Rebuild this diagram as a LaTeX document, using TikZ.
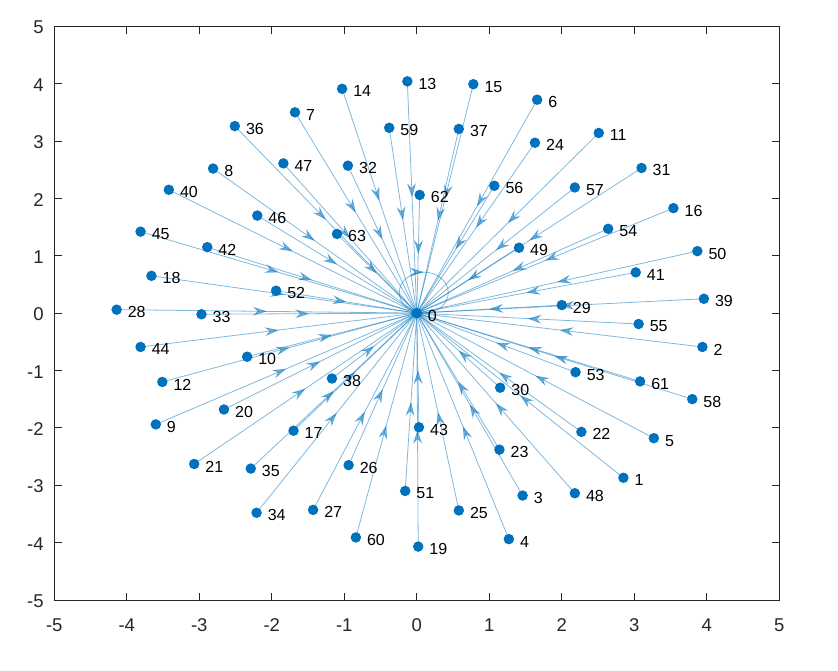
\documentclass[tikz,border=0pt]{standalone}
\usepackage{fontspec}
\setmainfont{Liberation Sans}
\usetikzlibrary{arrows.meta,decorations.markings}
\pgfdeclarelayer{bg}
\pgfsetlayers{bg,main}
\definecolor{mlblue}{RGB}{0,114,189}
\definecolor{axgray}{RGB}{38,38,38}
\begin{document}
\begin{tikzpicture}[x=72.5pt,y=57.37pt,
  vtx/.style={circle,fill=mlblue,inner sep=0pt,minimum size=10.5pt},
  vlabel/.style={font=\fontsize{16}{17}\selectfont,inner sep=0pt,anchor=west},
  edgeline/.style={draw=mlblue,opacity=0.5,line width=0.8pt},
  mlarrow/.tip={Stealth[length=14pt,width=9pt,inset=5pt]},
  edge/.style={edgeline,postaction={decorate},
    decoration={markings,mark=at position 0.5 with {\arrow{mlarrow}}}},
  loopedge/.style={edgeline,postaction={decorate},
    decoration={markings,mark=at position 0.25 with {\arrowreversed{mlarrow}}}},
  ticklab/.style={font=\fontsize{18.5}{20}\selectfont,text=axgray,inner sep=0pt},
  axisline/.style={draw=axgray,line width=0.8pt},
]
\useasboundingbox (-5.749,-6.238) rectangle (5.810,5.458);
% axes box and ticks
\draw[axisline] (-5,-5) rectangle (5,5);
\foreach \t in {-4,...,4}{
  \draw[axisline] (\t,-5) -- ++(0,7.3pt);
  \draw[axisline] (\t,5) -- ++(0,-7.3pt);
  \draw[axisline] (-5,\t) -- ++(7.3pt,0);
  \draw[axisline] (5,\t) -- ++(-7.3pt,0);
}
\foreach \t in {-5,...,5}{
  \path (\t,-5) ++(0,-18.5pt) node[ticklab,anchor=north] {\t};
  \path (-5,\t) ++(-10.5pt,-1.2pt) node[ticklab,anchor=east] {\t};
}
% vertices
\foreach \i/\x/\y in {0/0/0,1/2.85/-2.87,2/3.94/-0.59,3/1.46/-3.18,4/1.27/-3.94,5/3.27/-2.18,
  6/1.66/3.72,7/-1.68/3.50,8/-2.81/2.52,9/-3.60/-1.94,10/-2.34/-0.76,11/2.51/3.14,
  12/-3.51/-1.20,13/-0.13/4.04,14/-1.03/3.91,15/0.78/3.99,16/3.54/1.83,17/-1.70/-2.05,
  18/-3.66/0.65,19/0.02/-4.07,20/-2.66/-1.68,21/-3.07/-2.63,22/2.27/-2.07,23/1.14/-2.38,
  24/1.63/2.97,25/0.58/-3.44,26/-0.94/-2.65,27/-1.43/-3.43,28/-4.14/0.06,29/2.00/0.14,
  30/1.15/-1.30,31/3.10/2.53,32/-0.95/2.57,33/-2.97/-0.02,34/-2.21/-3.48,35/-2.29/-2.71,
  36/-2.51/3.26,37/0.58/3.21,38/-1.17/-1.14,39/3.96/0.25,40/-3.42/2.15,41/3.02/0.71,
  42/-2.89/1.15,43/0.03/-1.99,44/-3.81/-0.59,45/-3.81/1.42,46/-2.20/1.70,47/-1.84/2.61,
  48/2.18/-3.14,49/1.41/1.14,50/3.87/1.08,51/-0.16/-3.10,52/-1.94/0.39,53/2.19/-1.03,
  54/2.64/1.47,55/3.06/-0.19,56/1.07/2.22,57/2.18/2.19,58/3.80/-1.50,59/-0.38/3.23,
  60/-0.84/-3.91,61/3.08/-1.19,62/0.04/2.06,63/-1.10/1.38}{
  \node[vtx] (n\i) at (\x,\y) {};
}
% labels
\foreach \i in {0,...,63}{
  \node[vlabel] (l\i) at ([xshift=11pt,yshift=-2.5pt]n\i.center) {\i};
}
% edges
\begin{pgfonlayer}{bg}
\foreach \i in {1,...,63}{
  \draw[edge] (n\i.center) -- (n0.center);
}
\draw[loopedge] ([shift={(7pt,20.5pt)}]n0.center) ellipse [x radius=24.5pt,y radius=20.5pt];
\end{pgfonlayer}
\end{tikzpicture}
\end{document}
